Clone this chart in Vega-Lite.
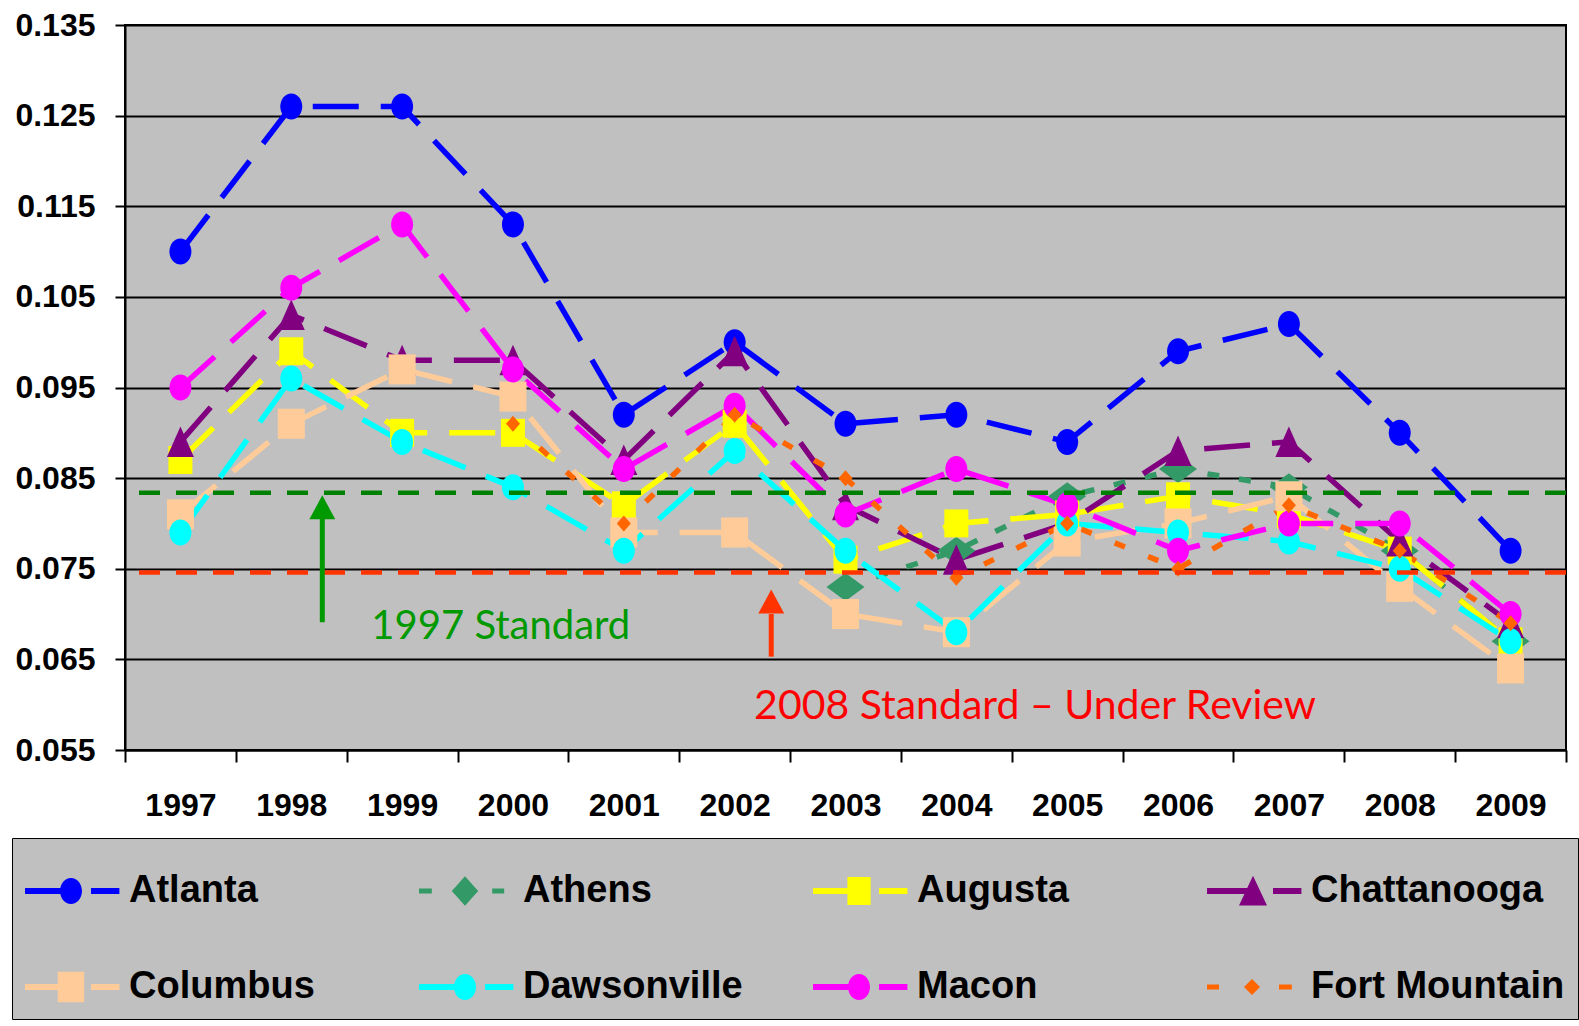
{
  "$schema": "https://vega.github.io/schema/vega-lite/v6.json",
  "autosize": {"type": "none"},
  "width": 1441,
  "height": 725,
  "padding": {"left": 125, "top": 25, "right": 13, "bottom": 276},
  "background": "white",
  "config": {
    "view": {"stroke": "black", "strokeWidth": 2, "fill": "#C0C0C0"},
    "axis": {"labelFont": "Liberation Sans", "labelFontWeight": "bold", "labelFontSize": 32, "labelColor": "black", "domainColor": "black", "domainWidth": 2, "tickColor": "black", "tickWidth": 2, "title": null, "labelOverlap": false, "labelFlush": false}
  },
  "datasets": {
    "ozone": [
      {"site": "Atlanta", "year": "1997", "value": 0.110}, {"site": "Atlanta", "year": "1998", "value": 0.126}, {"site": "Atlanta", "year": "1999", "value": 0.126}, {"site": "Atlanta", "year": "2000", "value": 0.113}, {"site": "Atlanta", "year": "2001", "value": 0.092}, {"site": "Atlanta", "year": "2002", "value": 0.100}, {"site": "Atlanta", "year": "2003", "value": 0.091}, {"site": "Atlanta", "year": "2004", "value": 0.092}, {"site": "Atlanta", "year": "2005", "value": 0.089}, {"site": "Atlanta", "year": "2006", "value": 0.099}, {"site": "Atlanta", "year": "2007", "value": 0.102}, {"site": "Atlanta", "year": "2008", "value": 0.090}, {"site": "Atlanta", "year": "2009", "value": 0.077},
      {"site": "Athens", "year": "2003", "value": 0.073}, {"site": "Athens", "year": "2004", "value": 0.077}, {"site": "Athens", "year": "2005", "value": 0.083}, {"site": "Athens", "year": "2006", "value": 0.086}, {"site": "Athens", "year": "2007", "value": 0.084}, {"site": "Athens", "year": "2008", "value": 0.077}, {"site": "Athens", "year": "2009", "value": 0.067},
      {"site": "Augusta", "year": "1997", "value": 0.087}, {"site": "Augusta", "year": "1998", "value": 0.099}, {"site": "Augusta", "year": "1999", "value": 0.090}, {"site": "Augusta", "year": "2000", "value": 0.090}, {"site": "Augusta", "year": "2001", "value": 0.082}, {"site": "Augusta", "year": "2002", "value": 0.091}, {"site": "Augusta", "year": "2003", "value": 0.076}, {"site": "Augusta", "year": "2004", "value": 0.080}, {"site": "Augusta", "year": "2005", "value": 0.081}, {"site": "Augusta", "year": "2006", "value": 0.083}, {"site": "Augusta", "year": "2007", "value": 0.081}, {"site": "Augusta", "year": "2008", "value": 0.077}, {"site": "Augusta", "year": "2009", "value": 0.067},
      {"site": "Chattanooga", "year": "1997", "value": 0.089}, {"site": "Chattanooga", "year": "1998", "value": 0.103}, {"site": "Chattanooga", "year": "1999", "value": 0.098}, {"site": "Chattanooga", "year": "2000", "value": 0.098}, {"site": "Chattanooga", "year": "2001", "value": 0.087}, {"site": "Chattanooga", "year": "2002", "value": 0.099}, {"site": "Chattanooga", "year": "2003", "value": 0.082}, {"site": "Chattanooga", "year": "2004", "value": 0.076}, {"site": "Chattanooga", "year": "2005", "value": 0.080}, {"site": "Chattanooga", "year": "2006", "value": 0.088}, {"site": "Chattanooga", "year": "2007", "value": 0.089}, {"site": "Chattanooga", "year": "2008", "value": 0.078}, {"site": "Chattanooga", "year": "2009", "value": 0.069},
      {"site": "Columbus", "year": "1997", "value": 0.081}, {"site": "Columbus", "year": "1998", "value": 0.091}, {"site": "Columbus", "year": "1999", "value": 0.097}, {"site": "Columbus", "year": "2000", "value": 0.094}, {"site": "Columbus", "year": "2001", "value": 0.079}, {"site": "Columbus", "year": "2002", "value": 0.079}, {"site": "Columbus", "year": "2003", "value": 0.070}, {"site": "Columbus", "year": "2004", "value": 0.068}, {"site": "Columbus", "year": "2005", "value": 0.078}, {"site": "Columbus", "year": "2006", "value": 0.080}, {"site": "Columbus", "year": "2007", "value": 0.083}, {"site": "Columbus", "year": "2008", "value": 0.073}, {"site": "Columbus", "year": "2009", "value": 0.064},
      {"site": "Dawsonville", "year": "1997", "value": 0.079}, {"site": "Dawsonville", "year": "1998", "value": 0.096}, {"site": "Dawsonville", "year": "1999", "value": 0.089}, {"site": "Dawsonville", "year": "2000", "value": 0.084}, {"site": "Dawsonville", "year": "2001", "value": 0.077}, {"site": "Dawsonville", "year": "2002", "value": 0.088}, {"site": "Dawsonville", "year": "2003", "value": 0.077}, {"site": "Dawsonville", "year": "2004", "value": 0.068}, {"site": "Dawsonville", "year": "2005", "value": 0.080}, {"site": "Dawsonville", "year": "2006", "value": 0.079}, {"site": "Dawsonville", "year": "2007", "value": 0.078}, {"site": "Dawsonville", "year": "2008", "value": 0.075}, {"site": "Dawsonville", "year": "2009", "value": 0.067},
      {"site": "Macon", "year": "1997", "value": 0.095}, {"site": "Macon", "year": "1998", "value": 0.106}, {"site": "Macon", "year": "1999", "value": 0.113}, {"site": "Macon", "year": "2000", "value": 0.097}, {"site": "Macon", "year": "2001", "value": 0.086}, {"site": "Macon", "year": "2002", "value": 0.093}, {"site": "Macon", "year": "2003", "value": 0.081}, {"site": "Macon", "year": "2004", "value": 0.086}, {"site": "Macon", "year": "2005", "value": 0.082}, {"site": "Macon", "year": "2006", "value": 0.077}, {"site": "Macon", "year": "2007", "value": 0.080}, {"site": "Macon", "year": "2008", "value": 0.080}, {"site": "Macon", "year": "2009", "value": 0.070},
      {"site": "Fort Mountain", "year": "2000", "value": 0.091}, {"site": "Fort Mountain", "year": "2001", "value": 0.080}, {"site": "Fort Mountain", "year": "2002", "value": 0.092}, {"site": "Fort Mountain", "year": "2003", "value": 0.085}, {"site": "Fort Mountain", "year": "2004", "value": 0.074}, {"site": "Fort Mountain", "year": "2005", "value": 0.080}, {"site": "Fort Mountain", "year": "2006", "value": 0.075}, {"site": "Fort Mountain", "year": "2007", "value": 0.082}, {"site": "Fort Mountain", "year": "2008", "value": 0.077}, {"site": "Fort Mountain", "year": "2009", "value": 0.069}
    ]
  },
  "layer": [
    {
      "data": {"name": "ozone"},
      "mark": {"type": "line", "strokeWidth": 5.5, "strokeCap": "butt"},
      "encoding": {
        "x": {"field": "year", "type": "ordinal",
          "scale": {"type": "band", "domain": ["1997","1998","1999","2000","2001","2002","2003","2004","2005","2006","2007","2008","2009"], "paddingInner": 0, "paddingOuter": 0},
          "axis": {"tickBand": "extent", "tickSize": 12, "labelPadding": 28, "grid": false, "labelAngle": 0}},
        "y": {"field": "value", "type": "quantitative",
          "scale": {"domain": [0.055, 0.135], "nice": false, "zero": false},
          "axis": {"values": [0.055,0.065,0.075,0.085,0.095,0.105,0.115,0.125,0.135], "format": ".3f", "grid": true, "gridColor": "black", "gridWidth": 2, "gridOpacity": 1, "tickSize": 10, "labelPadding": 20}},
        "color": {"field": "site", "type": "nominal",
          "scale": {"domain": ["Atlanta","Athens","Augusta","Chattanooga","Columbus","Dawsonville","Macon","Fort Mountain"], "range": ["#0000FF","#339966","#FFFF00","#800080","#FFCC99","#00FFFF","#FF00FF","#FF6600"]},
          "legend": {"title": null, "orient": "none", "direction": "horizontal", "legendX": -113, "legendY": 813, "columns": 4, "gridAlign": "all", "columnPadding": 36, "rowPadding": 37, "padding": 13,
            "fillColor": "#C0C0C0", "strokeColor": "black",
            "symbolSize": 6400, "symbolStrokeWidth": 0, "labelOffset": 24,
            "labelFont": "Liberation Sans", "labelFontSize": 38, "labelFontWeight": "bold", "labelColor": "black", "labelLimit": 500,
            "encode": {"symbols": {"update": {
              "shape": {"signal": "datum.value == 'Atlanta' ? 'M-1,-0.075H0.15V0.075H-1Z M0.65,-0.075H1.36V0.075H0.65Z M0.15,-0.325A0.275,0.325 0 1,1 0.15,0.325A0.275,0.325 0 1,1 0.15,-0.325Z' : datum.value == 'Athens' ? 'M-1,-0.065H-0.68V0.065H-1Z M0.83,-0.065H1.13V0.065H0.83Z M-0.18,0L0.15,-0.37L0.48,0L0.15,0.37Z' : datum.value == 'Augusta' ? 'M-1,-0.075H0.15V0.075H-1Z M0.65,-0.075H1.36V0.075H0.65Z M-0.14,-0.35H0.44V0.35H-0.14Z' : datum.value == 'Chattanooga' ? 'M-1,-0.075H0.15V0.075H-1Z M0.65,-0.075H1.36V0.075H0.65Z M0.15,-0.38L0.5,0.36L-0.2,0.36Z' : datum.value == 'Columbus' ? 'M-1,-0.075H0.15V0.075H-1Z M0.65,-0.075H1.36V0.075H0.65Z M-0.18,-0.38H0.48V0.38H-0.18Z' : datum.value == 'Fort Mountain' ? 'M-1,-0.065H-0.7V0.065H-1Z M0.8,-0.065H1.12V0.065H0.8Z M-0.075,0L0.125,-0.2L0.325,0L0.125,0.2Z' : 'M-1,-0.075H0.15V0.075H-1Z M0.65,-0.075H1.36V0.075H0.65Z M0.15,-0.325A0.275,0.325 0 1,1 0.15,0.325A0.275,0.325 0 1,1 0.15,-0.325Z'"},
              "fill": {"scale": "color", "field": "value"},
              "strokeWidth": {"value": 0},
              "opacity": {"value": 1}
            }}}
          }},
        "strokeDash": {"field": "site", "type": "nominal",
          "scale": {"domain": ["Fort Mountain","Atlanta","Athens","Augusta","Chattanooga","Columbus","Dawsonville","Macon"], "range": [[11,25],[46,22],[12,20],[46,22],[46,22],[46,22],[46,22],[46,22]]},
          "legend": null}
      }
    },
    {
      "data": {"name": "ozone"},
      "mark": {"type": "point", "filled": true, "opacity": 1, "size": 400},
      "encoding": {
        "x": {"field": "year", "type": "ordinal"},
        "y": {"field": "value", "type": "quantitative"},
        "color": {"field": "site", "type": "nominal", "legend": null},
        "shape": {"field": "site", "type": "nominal",
          "scale": {"domain": ["Macon","Fort Mountain","Atlanta","Athens","Augusta","Chattanooga","Columbus","Dawsonville"],
            "range": ["M0,-1.3A1.1,1.3 0 1,1 0,1.3A1.1,1.3 0 1,1 0,-1.3Z", "M-0.7,0L0,-0.8L0.7,0L0,0.8Z", "M0,-1.3A1.1,1.3 0 1,1 0,1.3A1.1,1.3 0 1,1 0,-1.3Z", "M-1.9,0L0,-1.4L1.9,0L0,1.4Z", "M-1.2,-1.4H1.2V1.4H-1.2Z", "M0,-1.55L1.35,1.5L-1.35,1.5Z", "M-1.35,-1.5H1.35V1.5H-1.35Z", "M0,-1.3A1.1,1.3 0 1,1 0,1.3A1.1,1.3 0 1,1 0,-1.3Z"]},
          "legend": null}
      }
    },
    {
      "data": {"values": [{"standard": "1997", "value": 0.0834}]},
      "mark": {"type": "rule", "color": "#008000", "strokeWidth": 4.5, "strokeDash": [21, 16]},
      "encoding": {"y": {"field": "value", "type": "quantitative"}}
    },
    {
      "data": {"values": [{"standard": "2008", "value": 0.0746}]},
      "mark": {"type": "rule", "color": "#FF3300", "strokeWidth": 4.5, "strokeDash": [21, 16]},
      "encoding": {"y": {"field": "value", "type": "quantitative"}}
    },
    {
      "data": {"values": [{"year": "1998", "from": 0.0691, "to": 0.0826}]},
      "mark": {"type": "rule", "color": "#009900", "strokeWidth": 5},
      "encoding": {"x": {"field": "year", "type": "ordinal", "bandPosition": 0.78}, "y": {"field": "from", "type": "quantitative"}, "y2": {"field": "to"}}
    },
    {
      "data": {"values": [{"year": "1998", "tip": 0.0831}]},
      "mark": {"type": "point", "filled": true, "opacity": 1, "color": "#009900", "size": 576, "shape": "M0,0L1.08,2L-1.08,2Z"},
      "encoding": {"x": {"field": "year", "type": "ordinal", "bandPosition": 0.78}, "y": {"field": "tip", "type": "quantitative"}}
    },
    {
      "data": {"values": [{"year": "2002", "from": 0.0653, "to": 0.0700}]},
      "mark": {"type": "rule", "color": "#FF3300", "strokeWidth": 5},
      "encoding": {"x": {"field": "year", "type": "ordinal", "bandPosition": 0.83}, "y": {"field": "from", "type": "quantitative"}, "y2": {"field": "to"}}
    },
    {
      "data": {"values": [{"year": "2002", "tip": 0.0727}]},
      "mark": {"type": "point", "filled": true, "opacity": 1, "color": "#FF3300", "size": 576, "shape": "M0,0L1.08,2L-1.08,2Z"},
      "encoding": {"x": {"field": "year", "type": "ordinal", "bandPosition": 0.83}, "y": {"field": "tip", "type": "quantitative"}}
    },
    {
      "data": {"values": [{"label": "1997 Standard", "year": "2000", "value": 0.0686}]},
      "mark": {"type": "text", "font": "Lato", "fontSize": 40, "color": "#009900", "align": "center", "baseline": "middle"},
      "encoding": {"x": {"field": "year", "type": "ordinal", "bandPosition": 0.39}, "y": {"field": "value", "type": "quantitative"}, "text": {"field": "label"}}
    },
    {
      "data": {"values": [{"label": "2008 Standard – Under Review", "year": "2005", "value": 0.0598}]},
      "mark": {"type": "text", "font": "Lato", "fontSize": 41, "color": "#FF0000", "align": "center", "baseline": "middle"},
      "encoding": {"x": {"field": "year", "type": "ordinal", "bandPosition": 0.21}, "y": {"field": "value", "type": "quantitative"}, "text": {"field": "label"}}
    }
  ]
}
